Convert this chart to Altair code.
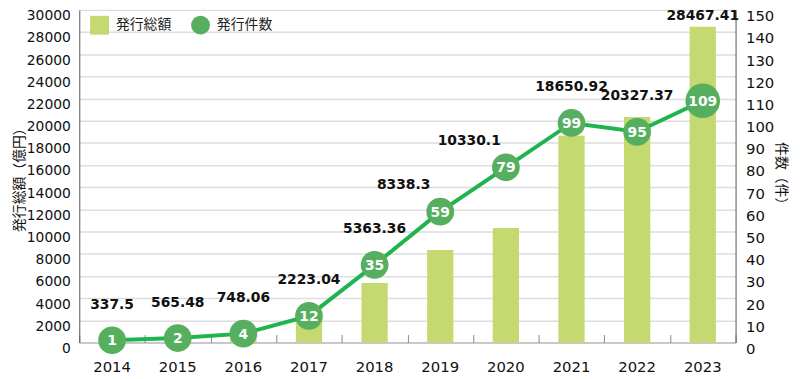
import altair as alt
import pandas as pd

# ---- data ----
years = [2014, 2015, 2016, 2017, 2018, 2019, 2020, 2021, 2022, 2023]
amounts = [337.5, 565.48, 748.06, 2223.04, 5363.36, 8338.3, 10330.1, 18650.92, 20327.37, 28467.41]
counts = [1, 2, 4, 12, 35, 59, 79, 99, 95, 109]
left_ticks = [0, 2000, 4000, 6000, 8000, 10000, 12000, 14000, 16000, 18000,
              20000, 22000, 24000, 26000, 28000, 30000]
right_ticks = [0, 10, 20, 30, 40, 50, 60, 70, 80, 90, 100, 110, 120, 130, 140, 150]
series_names = ["発行総額", "発行件数"]

df = pd.DataFrame({"year": years, "amount": amounts, "count": counts})

BAR = "#c4d96f"
DOT = "#56ae5f"
LINE = "#1fb44e"
NUM_FONT = "DejaVu Sans"
JP_FONT = "Noto Sans CJK JP"
W, H = 663, 336

legend = alt.Legend(orient="none", legendX=11, legendY=6, direction="horizontal",
                    title=None, symbolSize=361, labelFont=JP_FONT, labelFontSize=14,
                    labelColor="#222", columnPadding=20, labelOffset=7, padding=0,
                    symbolStrokeWidth=0, symbolOpacity=1)

color = alt.Color("series:N", scale=alt.Scale(domain=series_names, range=[BAR, DOT]), legend=legend)
shape = alt.Shape("series:N", scale=alt.Scale(domain=series_names, range=["square", "circle"]), legend=legend)

x_bottom = alt.X("year:O", scale=alt.Scale(paddingInner=0, paddingOuter=0),
                 axis=alt.Axis(orient="bottom", title=None, labelAngle=0, ticks=False,
                               domainColor="#aaaaaa", domainWidth=1, labelFont=NUM_FONT,
                               labelFontSize=15, labelColor="#111111", labelPadding=17, grid=False))
x_top = alt.X("year:O",
              axis=alt.Axis(orient="top", offset=-H, labels=False, domain=False, ticks=True,
                            tickBand="extent", tickSize=8, tickColor="#888888", tickWidth=1,
                            title=None, grid=False))


def y_right(field):
    return alt.Y(field, scale=alt.Scale(domain=[0, 150], nice=False),
                 axis=alt.Axis(orient="right", values=right_ticks, format="d",
                               title="件数（件）", grid=False,
                               ticks=False, domainColor="#555555", labelPadding=10, labelOffset=6,
                               labelFont=NUM_FONT, labelFontSize=15, labelColor="#111111",
                               titlePadding=0, titleFont=JP_FONT, titleFontSize=14,
                               titleFontWeight="normal", titleColor="#111111"))


base = alt.Chart(df)

bars = base.transform_calculate(series="'発行総額'").mark_bar(
    width=alt.RelativeBandSize(0.4)
).encode(
    x=x_bottom,
    y=alt.Y("amount:Q", scale=alt.Scale(domain=[0, 30000], nice=False),
            axis=alt.Axis(values=left_ticks, format="d", title="発行総額（億円）", grid=True,
                          gridColor="#dddddd", gridWidth=1.5, ticks=False,
                          domainColor="#555555", labelPadding=9, labelOffset=6,
                          labelFont=NUM_FONT, labelFontSize=14, labelColor="#111111",
                          titlePadding=0, titleFont=JP_FONT, titleFontSize=14,
                          titleFontWeight="normal", titleColor="#111111")),
    color=color,
)

line = base.mark_line(color=LINE, strokeWidth=4).encode(x=x_top, y=y_right("count:Q"))

points = base.transform_calculate(series="'発行件数'").mark_point(filled=True, opacity=1).encode(
    x=x_top,
    y=y_right("count:Q"),
    color=color,
    shape=shape,
    size=alt.condition("datum.count >= 100", alt.value(1225), alt.value(784)),
)

count_text = base.mark_text(color="white", font=NUM_FONT, fontWeight="bold", fontSize=14,
                            baseline="middle", dy=1).encode(
    x=x_top, y=y_right("count:Q"), text="count:N")

labels_main = base.transform_filter(
    "datum.year != 2019 && datum.year != 2020"
).transform_calculate(
    labelpos="min(max(datum.count + 7, datum.amount / 200) + 9, 147)"
).mark_text(font=NUM_FONT, fontWeight="bold", fontSize=14, color="#111111",
            baseline="middle").encode(
    x=x_top, y=y_right("labelpos:Q"), text="amount:N")

labels_left = base.transform_filter(
    "datum.year == 2019 || datum.year == 2020"
).transform_calculate(
    labelpos="datum.count + 12"
).mark_text(font=NUM_FONT, fontWeight="bold", fontSize=14, color="#111111",
            baseline="middle", dx=-37).encode(
    x=x_top, y=y_right("labelpos:Q"), text="amount:N")

inner = alt.layer(line, points, count_text, labels_main, labels_left)

chart = alt.layer(bars, inner).resolve_scale(y="independent").resolve_axis(
    x="independent", y="independent"
).properties(
    width=W, height=H,
    autosize=alt.AutoSizeParams(type="none"),
    padding={"left": 72, "top": 0, "right": 57, "bottom": 35},
).configure_view(stroke=None)

chart.save("out.html", embed_options={"renderer": "svg", "actions": False})
